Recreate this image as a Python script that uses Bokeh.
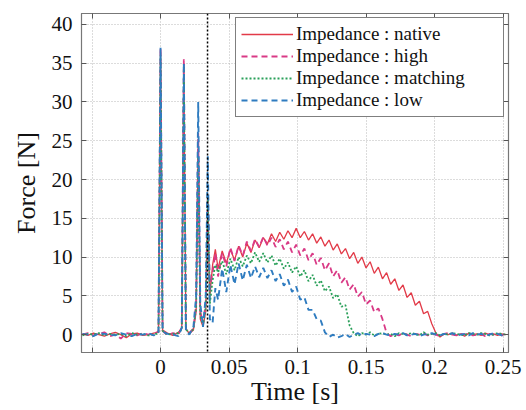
from bokeh.plotting import figure
from bokeh.models import Range1d, LinearAxis, Span, FixedTicker, CustomJSTickFormatter, Legend, LegendItem
from bokeh.embed import file_html
from bokeh.resources import INLINE

# ---------------- data ----------------
time_pre = [-0.057, -0.053, -0.049, -0.045, -0.041, -0.037, -0.033, -0.029, -0.025, -0.021,
            -0.017, -0.013, -0.009, -0.005, -0.0015, 0.0, 0.0015, 0.005, 0.009, 0.013,
            0.0155, 0.017, 0.0185, 0.021, 0.024, 0.026, 0.0275, 0.029, 0.031, 0.033,
            0.0345, 0.036, 0.038, 0.040]
time_post = [0.042, 0.045, 0.048, 0.051, 0.054, 0.057, 0.060, 0.063, 0.066, 0.069,
             0.072, 0.075, 0.078, 0.081, 0.084, 0.087, 0.090, 0.093, 0.096, 0.099,
             0.102, 0.105, 0.108, 0.111, 0.114, 0.117, 0.120, 0.123, 0.126, 0.129,
             0.132, 0.135, 0.138, 0.141, 0.144, 0.147, 0.150, 0.153, 0.156, 0.159,
             0.162, 0.165, 0.168, 0.171, 0.174, 0.177, 0.180, 0.183, 0.186, 0.189,
             0.192, 0.195, 0.198, 0.201, 0.204, 0.207, 0.210, 0.213, 0.216, 0.219,
             0.222, 0.225, 0.228, 0.231, 0.234, 0.237, 0.240, 0.243, 0.246, 0.249,
             0.252]

native_pre = [0.1, -0.1, 0.2, 0.0, -0.2, 0.1, 0.3, 0.0, -0.4, 0.1, 0.2, -0.1, 0.0, 0.2, 0.3,
              36.5, 0.6, 0.2, -0.1, 0.3, 0.8, 35.0, 0.8, 0.1, 0.6, 3.0, 25.0, 2.0,
              1.0, 3.0, 16.0, 5.0, 9.0, 11.0]
native_post = [8.5, 10.8, 9.2, 11.0, 9.6, 11.4, 10.0, 11.8, 10.6, 12.2,
               11.2, 12.5, 11.7, 13.0, 12.0, 13.2, 12.3, 13.4, 12.5, 13.7,
               12.5, 13.3, 12.2, 13.0, 11.8, 12.6, 11.4, 12.2, 10.9, 11.7,
               10.4, 11.1, 9.8, 10.6, 9.2, 10.0, 8.6, 9.4, 7.9, 8.7,
               7.2, 8.0, 6.5, 7.2, 5.7, 6.4, 4.8, 5.4, 3.8, 4.3,
               2.7, 3.0, 1.4, 0.2, -0.3, 0.1,
               0.0, 0.2, -0.1, 0.1, -0.2, 0.2, 0.0, 0.1, -0.1, 0.2, 0.0, 0.1, -0.1, 0.1, 0.0]

high_pre = [0.0, 0.2, -0.1, 0.1, 0.3, -0.2, 0.0, -0.5, 0.2, 0.1, -0.1, 0.2, 0.0, 0.1, 0.4,
            37.0, 0.5, -0.1, 0.2, 0.0, 1.0, 35.5, 0.7, 0.2, 0.8, 4.0, 26.0, 3.0,
            1.5, 4.0, 18.0, 6.0, 8.0, 10.5]
high_post = [7.5, 10.5, 8.8, 11.2, 9.5, 11.5, 10.2, 12.0, 10.8, 12.3,
             11.3, 12.6, 11.5, 12.5, 11.3, 12.3, 11.0, 12.0, 10.6, 11.6,
             10.2, 11.1, 9.6, 10.5, 9.0, 9.9, 8.3, 9.2, 7.5, 8.3,
             6.7, 7.4, 5.8, 6.5, 4.9, 5.5, 3.9, 4.4, 2.9, 3.4,
             2.0, 0.2, -0.2,
             0.1, -0.1, 0.2, 0.0, -0.2, 0.1, 0.0, 0.2, -0.1, 0.1, 0.0, -0.2, 0.1, 0.2,
             0.0, -0.1, 0.1, 0.0, 0.2, -0.1, 0.0, 0.1, -0.2, 0.1, 0.0, 0.2, -0.1, 0.1]

matching_pre = [-0.1, 0.1, 0.0, 0.2, -0.1, 0.1, 0.0, 0.1, -0.2, 0.2, 0.0, 0.1, -0.1, 0.0, 0.2,
                36.0, 0.5, 0.0, 0.1, 0.2, 0.7, 34.5, 0.7, 0.2, 0.7, 3.5, 23.0, 2.5,
                1.2, 3.5, 18.0, 4.0, 7.0, 9.0]
matching_post = [8.0, 9.5, 7.8, 9.8, 8.3, 10.0, 8.8, 10.2, 9.2, 10.6,
                 9.4, 10.5, 9.3, 10.2, 8.9, 9.8, 8.5, 9.3, 8.0, 8.8,
                 7.5, 8.3, 6.9, 7.7, 6.3, 7.0, 5.6, 6.2, 4.7, 5.2,
                 3.6, 3.8, 1.2, 0.2, -0.2,
                 0.2, 0.0, 0.3, -0.1, 0.1, 0.2, 0.0, 0.1, -0.2, 0.2, 0.1, 0.0, 0.2, 0.1, -0.1,
                 0.3, 0.0, 0.1, 0.2, -0.1, 0.1, 0.0, 0.2, 0.1, 0.0, -0.1, 0.2, 0.1, 0.0, 0.2,
                 0.1, -0.1, 0.0, 0.2, 0.1, 0.0]

low_pre = [0.1, 0.0, -0.2, 0.2, 0.1, 0.0, -0.1, 0.2, 0.0, -0.2, 0.1, 0.0, 0.2, -0.1, 0.3,
           37.0, 0.4, 0.1, 0.0, -0.2, 0.9, 35.0, 0.6, 0.0, 1.0, 5.0, 30.0, 4.0,
           1.0, 5.0, 23.0, 2.0, 1.5, 6.0]
low_post = [4.5, 8.5, 5.5, 9.0, 6.5, 9.2, 7.0, 9.0, 7.3, 8.8,
            7.4, 8.6, 7.3, 8.3, 6.9, 7.8, 6.3, 7.1, 5.5, 6.2,
            4.5, 4.8, 3.2, 3.2, 2.0, 1.8, 0.3, -0.3,
            0.0, -0.4, -0.2, 0.1, -0.3, 0.0, 0.2, -0.1, 0.1, 0.0, -0.2, 0.1, 0.2, 0.0, -0.1,
            0.1, 0.0, 0.2, -0.1, 0.0, 0.1, -0.2, 0.0, 0.1, 0.2, 0.0, -0.1, 0.1, 0.0, 0.2,
            -0.1, 0.0, 0.1, -0.1, 0.2, 0.0, 0.1, -0.1, 0.0, 0.2, 0.1, -0.1, 0.0]

contact_time = 0.0343
x_ticks = [-0.05, 0.0, 0.05, 0.1, 0.15, 0.2, 0.25]
y_ticks = [0, 5, 10, 15, 20, 25, 30, 35, 40]
labels = ["Impedance : native", "Impedance : high", "Impedance : matching", "Impedance : low"]

time = time_pre + time_post
series = [native_pre + native_post, high_pre + high_post,
          matching_pre + matching_post, low_pre + low_post]

# ---------------- figure ----------------
FONT = "Liberation Serif"
p = figure(width=526, height=410, output_backend="svg", toolbar_location=None,
           x_range=Range1d(-0.0577, 0.254), y_range=Range1d(-2.3, 41.4),
           min_border_left=81, min_border_right=18, min_border_top=13, min_border_bottom=58)
p.background_fill_color = "white"
p.outline_line_color = "#777777"
p.outline_line_width = 1.2

bottom_ax = p.xaxis[0]
left_ax = p.yaxis[0]

colors = ["#e23a48", "#d93a86", "#2aa05a", "#2f7cc0"]
dashes = ["solid", "6 4", "2 2", "6 4"]
widths = [1.3, 1.8, 1.8, 1.9]

renderers = []
for s, c, d, w in zip(series, colors, dashes, widths):
    r = p.line(time, s, line_color=c, line_dash=d, line_width=w)
    renderers.append(r)

p.add_layout(Span(location=contact_time, dimension="height", line_color="black",
                  line_dash="2 2", line_width=1.5))

xt = FixedTicker(ticks=x_ticks)
yt = FixedTicker(ticks=y_ticks)
fmt = CustomJSTickFormatter(code="""
  if (tick < -0.01) { return ""; }
  return (Math.round(tick * 100) / 100).toString();
""")
blank = CustomJSTickFormatter(code="return '';")

bottom_ax.ticker = xt
bottom_ax.formatter = fmt
left_ax.ticker = yt

right_ax = LinearAxis(ticker=yt, formatter=blank)
top_ax = LinearAxis(ticker=xt, formatter=blank)
p.add_layout(right_ax, "right")
p.add_layout(top_ax, "above")

for ax in [bottom_ax, left_ax, right_ax, top_ax]:
    ax.axis_line_color = "#777777"
    ax.major_tick_in = 5
    ax.major_tick_out = 0
    ax.major_tick_line_color = "#555555"
    ax.minor_tick_line_color = None
    ax.major_label_text_font = FONT
    ax.major_label_text_color = "#111111"
    ax.major_label_text_font_size = "21px"

right_ax.major_label_standoff = 0
top_ax.major_label_standoff = 0
bottom_ax.major_label_standoff = 7
left_ax.major_label_standoff = 9
bottom_ax.axis_label = "Time [s]"
left_ax.axis_label = "Force [N]"
for ax in [bottom_ax, left_ax]:
    ax.axis_label_text_font = FONT
    ax.axis_label_text_font_size = "26px"
    ax.axis_label_text_font_style = "normal"
    ax.axis_label_text_color = "#111111"
bottom_ax.axis_label_standoff = 0
left_ax.axis_label_standoff = 8

p.xgrid.ticker = xt
p.ygrid.ticker = yt
for g in [p.xgrid[0], p.ygrid[0]]:
    g.grid_line_color = "#b8b8b8"
    g.grid_line_dash = "1 2"
    g.grid_line_width = 1

legend = Legend(items=[LegendItem(label=l, renderers=[r]) for l, r in zip(labels, renderers)],
                location="top_right")
legend.label_text_font = FONT
legend.label_text_font_size = "19px"
legend.label_text_color = "#111111"
legend.border_line_color = "black"
legend.border_line_width = 1.8
legend.background_fill_alpha = 1.0
legend.margin = 4
legend.padding = 5
legend.spacing = 0
legend.glyph_width = 52
legend.glyph_height = 18
legend.label_height = 18
legend.label_width = 202
legend.label_standoff = 3
p.add_layout(legend)

open("out.html", "w").write(file_html(p, INLINE))
